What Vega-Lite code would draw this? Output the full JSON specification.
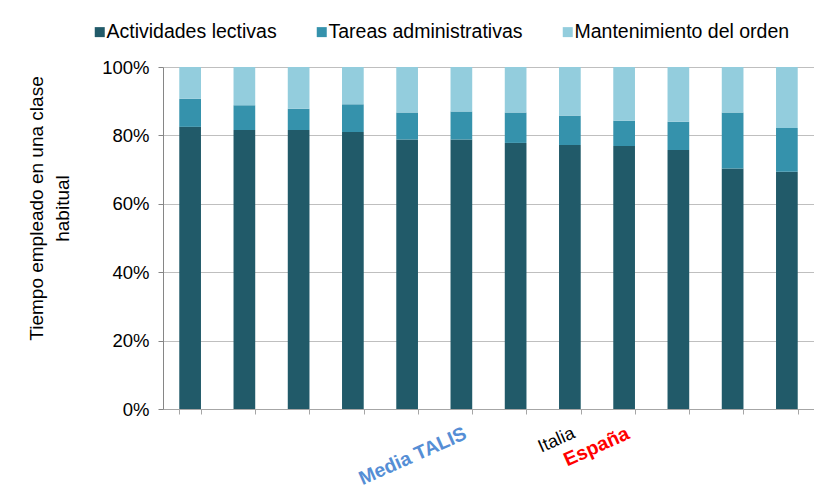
{
  "$schema": "https://vega.github.io/schema/vega-lite/v6.json",
  "autosize": {"type": "none"},
  "padding": {"left": 163, "top": 67, "right": 0, "bottom": 95},
  "width": 651,
  "height": 342,
  "background": "#ffffff",
  "config": {
    "font": "Liberation Sans",
    "view": {"stroke": null},
    "axis": {"labelFont": "Liberation Sans", "titleFont": "Liberation Sans"},
    "legend": {"labelFont": "Liberation Sans"}
  },
  "data": {
    "values": [
      {"pais": "País 1", "actividad": "Actividades lectivas", "orden": 1, "valor": 82.5},
      {"pais": "País 1", "actividad": "Tareas administrativas", "orden": 2, "valor": 8.2},
      {"pais": "País 1", "actividad": "Mantenimiento del orden", "orden": 3, "valor": 9.3},
      {"pais": "País 2", "actividad": "Actividades lectivas", "orden": 1, "valor": 81.6},
      {"pais": "País 2", "actividad": "Tareas administrativas", "orden": 2, "valor": 7.2},
      {"pais": "País 2", "actividad": "Mantenimiento del orden", "orden": 3, "valor": 11.2},
      {"pais": "País 3", "actividad": "Actividades lectivas", "orden": 1, "valor": 81.6},
      {"pais": "País 3", "actividad": "Tareas administrativas", "orden": 2, "valor": 6.2},
      {"pais": "País 3", "actividad": "Mantenimiento del orden", "orden": 3, "valor": 12.2},
      {"pais": "País 4", "actividad": "Actividades lectivas", "orden": 1, "valor": 81.0},
      {"pais": "País 4", "actividad": "Tareas administrativas", "orden": 2, "valor": 8.1},
      {"pais": "País 4", "actividad": "Mantenimiento del orden", "orden": 3, "valor": 10.9},
      {"pais": "País 5", "actividad": "Actividades lectivas", "orden": 1, "valor": 78.8},
      {"pais": "País 5", "actividad": "Tareas administrativas", "orden": 2, "valor": 7.9},
      {"pais": "País 5", "actividad": "Mantenimiento del orden", "orden": 3, "valor": 13.3},
      {"pais": "Media TALIS", "actividad": "Actividades lectivas", "orden": 1, "valor": 78.8},
      {"pais": "Media TALIS", "actividad": "Tareas administrativas", "orden": 2, "valor": 8.2},
      {"pais": "Media TALIS", "actividad": "Mantenimiento del orden", "orden": 3, "valor": 13.0},
      {"pais": "País 7", "actividad": "Actividades lectivas", "orden": 1, "valor": 77.8},
      {"pais": "País 7", "actividad": "Tareas administrativas", "orden": 2, "valor": 8.9},
      {"pais": "País 7", "actividad": "Mantenimiento del orden", "orden": 3, "valor": 13.3},
      {"pais": "Italia", "actividad": "Actividades lectivas", "orden": 1, "valor": 77.2},
      {"pais": "Italia", "actividad": "Tareas administrativas", "orden": 2, "valor": 8.6},
      {"pais": "Italia", "actividad": "Mantenimiento del orden", "orden": 3, "valor": 14.2},
      {"pais": "España", "actividad": "Actividades lectivas", "orden": 1, "valor": 76.9},
      {"pais": "España", "actividad": "Tareas administrativas", "orden": 2, "valor": 7.4},
      {"pais": "España", "actividad": "Mantenimiento del orden", "orden": 3, "valor": 15.7},
      {"pais": "País 10", "actividad": "Actividades lectivas", "orden": 1, "valor": 75.7},
      {"pais": "País 10", "actividad": "Tareas administrativas", "orden": 2, "valor": 8.3},
      {"pais": "País 10", "actividad": "Mantenimiento del orden", "orden": 3, "valor": 16.0},
      {"pais": "País 11", "actividad": "Actividades lectivas", "orden": 1, "valor": 70.3},
      {"pais": "País 11", "actividad": "Tareas administrativas", "orden": 2, "valor": 16.4},
      {"pais": "País 11", "actividad": "Mantenimiento del orden", "orden": 3, "valor": 13.3},
      {"pais": "País 12", "actividad": "Actividades lectivas", "orden": 1, "valor": 69.4},
      {"pais": "País 12", "actividad": "Tareas administrativas", "orden": 2, "valor": 12.8},
      {"pais": "País 12", "actividad": "Mantenimiento del orden", "orden": 3, "valor": 17.8}
    ]
  },
  "mark": {"type": "bar"},
  "encoding": {
    "x": {
      "field": "pais",
      "type": "nominal",
      "sort": null,
      "scale": {"paddingInner": 0.6, "paddingOuter": 0.3},
      "axis": {
        "title": null,
        "labelExpr": "test(/^País/, datum.value) ? '' : datum.value",
        "labelAngle": -24,
        "labelAlign": "right",
        "labelBaseline": "top",
        "labelPadding": 10,
        "labelOverlap": false,
        "labelBound": false,
        "labelFontSize": {"condition": [
          {"test": "datum.value === 'Italia'", "value": 18},
          {"test": "datum.value === 'Media TALIS' || datum.value === 'España'", "value": 19.5}
        ], "value": 18},
        "labelFontWeight": {"condition": {"test": "datum.value === 'Italia'", "value": "normal"}, "value": "bold"},
        "labelColor": {"condition": [
          {"test": "datum.value === 'Media TALIS'", "value": "#558ED5"},
          {"test": "datum.value === 'España'", "value": "#FF0000"}
        ], "value": "#000000"},
        "tickBand": "extent",
        "tickSize": 5,
        "tickColor": "#a6a6a6",
        "domainColor": "#a6a6a6",
        "grid": false
      }
    },
    "y": {
      "field": "valor",
      "type": "quantitative",
      "stack": "zero",
      "scale": {"domain": [0, 100], "nice": false},
      "axis": {
        "values": [0, 20, 40, 60, 80, 100],
        "labelExpr": "datum.value + '%'",
        "labelFontSize": 18.5,
        "labelColor": "#000000",
        "labelPadding": 9,
        "tickSize": 5,
        "tickColor": "#868686",
        "domainColor": "#868686",
        "grid": true,
        "gridColor": "#bfbfbf",
        "title": ["Tiempo empleado en una clase", "habitual"],
        "titleFontSize": 19,
        "titleFontWeight": "normal",
        "titleColor": "#000000",
        "titleAngle": -90,
        "titleX": -121,
        "titleY": 141,
        "titleAlign": "center",
        "titleBaseline": "alphabetic",
        "titleLineHeight": 26
      }
    },
    "color": {
      "field": "actividad",
      "type": "nominal",
      "scale": {
        "domain": ["Actividades lectivas", "Tareas administrativas", "Mantenimiento del orden"],
        "range": ["#215A69", "#3592AC", "#93CDDD"]
      },
      "legend": {
        "title": null,
        "orient": "none",
        "direction": "horizontal",
        "legendX": -73,
        "legendY": -45,
        "padding": 0,
        "symbolType": "square",
        "symbolSize": 100,
        "symbolStrokeWidth": 0,
        "labelFontSize": 19.5,
        "labelLimit": 0,
        "labelColor": "#000000",
        "labelOffset": -3,
        "columnPadding": 35
      }
    },
    "order": {"field": "orden", "type": "quantitative"}
  }
}
